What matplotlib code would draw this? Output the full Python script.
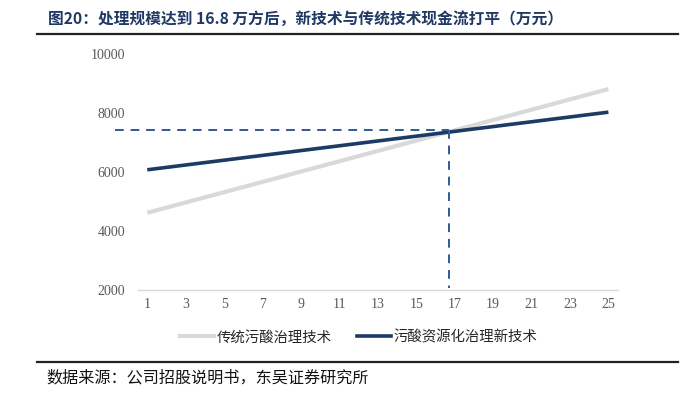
import matplotlib.pyplot as plt
from matplotlib.lines import Line2D

plt.rcParams['font.family'] = ['Noto Sans CJK SC', 'DejaVu Sans']

# 处理规模（万方）
scale = list(range(1, 26))
# 传统污酸治理技术 现金流（万元）
old_tech = [4620, 4795, 4970, 5145, 5320, 5495, 5670, 5845, 6020, 6195,
            6370, 6545, 6720, 6895, 7070, 7245, 7420, 7595, 7770, 7945,
            8120, 8295, 8470, 8645, 8820]
# 污酸资源化治理新技术 现金流（万元）
new_tech = [6080, 6162, 6243, 6325, 6406, 6488, 6569, 6651, 6732, 6814,
            6895, 6977, 7058, 7140, 7221, 7303, 7384, 7466, 7547, 7629,
            7710, 7792, 7873, 7955, 8036]
names = ["传统污酸治理技术", "污酸资源化治理新技术"]
xticks = list(range(1, 26, 2))
yticks = [2000, 4000, 6000, 8000, 10000]
# 打平点
be_x = 16.7
be_y = 7420

fig = plt.figure(figsize=(6.86, 3.99), dpi=100)
ax = fig.add_axes([0.2007, 0.2732, 0.7002, 0.5907])

ax.plot(scale, old_tech, color="#d9d9d9", lw=3.0, solid_capstyle="butt", label=names[0])
ax.plot(scale, new_tech, color="#1c3a63", lw=2.6, solid_capstyle="butt", label=names[1])

dash = dict(color="#2f5a94", lw=1.4, ls=(0, (4.5, 3.5)), clip_on=False)
ax.plot([-0.68, be_x], [be_y, be_y], **dash)
ax.plot([be_x, be_x], [be_y, 2060], **dash)

ax.set_xlim(0.5, 25.5)
ax.set_ylim(2000, 10000)
ax.set_xticks(xticks)
ax.set_yticks(yticks)
for s in ["top", "right", "left"]:
    ax.spines[s].set_visible(False)
ax.spines["bottom"].set_color("#d9d9d9")
ax.spines["bottom"].set_linewidth(1.0)
ax.tick_params(length=0, colors="#595959", labelsize=10, pad=9)
ax.tick_params(axis="x", pad=6)
for lab in ax.get_xticklabels() + ax.get_yticklabels():
    lab.set_family("Liberation Serif")

handles = [Line2D([0], [0], color="#d9d9d9", lw=3.0),
           Line2D([0], [0], color="#1c3a63", lw=2.6)]
fig.legend(handles, names, loc="center", bbox_to_anchor=(0.523, 0.155), ncol=2,
           frameon=False, fontsize=10.4, handlelength=2.36, handletextpad=0.15,
           columnspacing=1.8, labelcolor="#262626")

fig.text(0.070, 0.953, "图20：处理规模达到 16.8 万方后，新技术与传统技术现金流打平（万元）",
         fontsize=11.3, fontweight="bold", color="#1f3864", va="center", ha="left")
fig.add_artist(Line2D([0.054, 0.988], [0.914, 0.914], color="#222222", lw=1.6))
fig.add_artist(Line2D([0.054, 0.988], [0.093, 0.093], color="#222222", lw=1.6))
fig.text(0.068, 0.052, "数据来源：公司招股说明书，东吴证券研究所",
         fontsize=11.6, color="#111111", va="center", ha="left")

fig.savefig("out.png", dpi=100)
